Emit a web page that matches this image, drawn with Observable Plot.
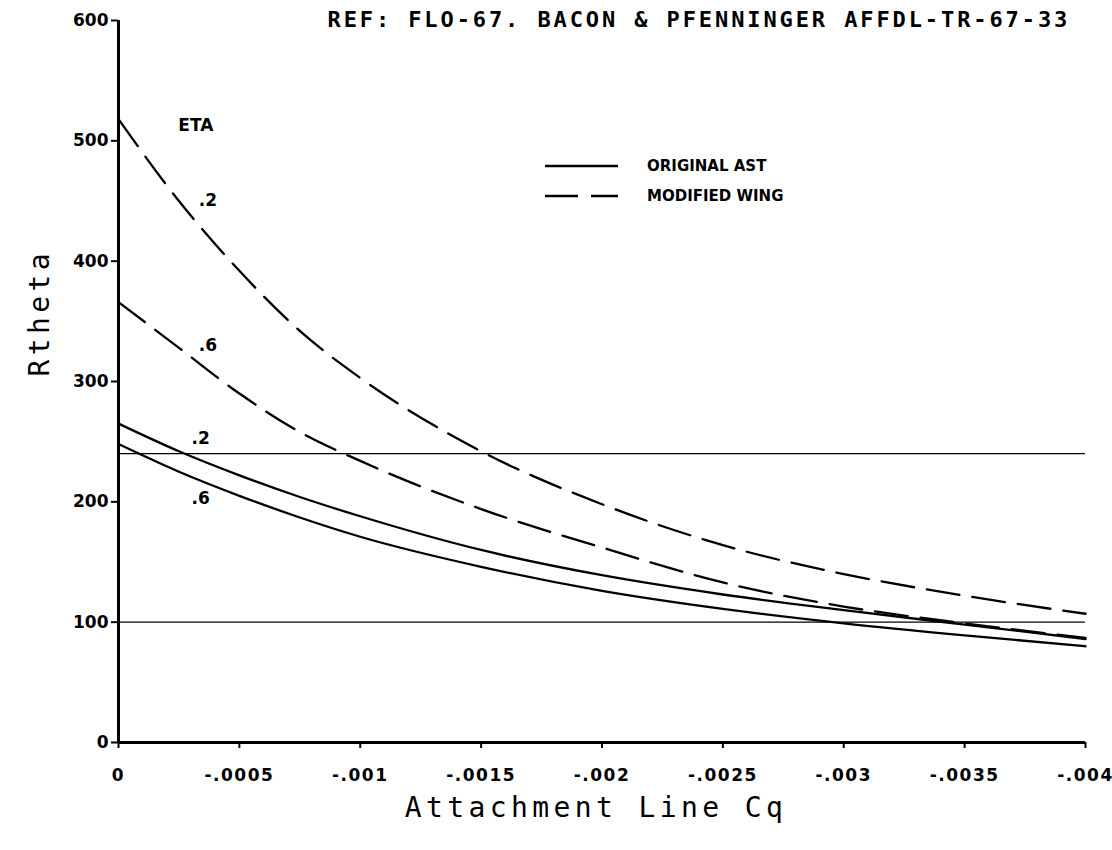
<!DOCTYPE html>
<html>
<head>
<meta charset="utf-8">
<script src="https://cdn.jsdelivr.net/npm/d3@7"></script>
<script src="https://cdn.jsdelivr.net/npm/@observablehq/plot@0.6"></script>
<style>
  body { margin: 0; background: #fff; }
  #chart svg { display: block; }
</style>
</head>
<body>
<div id="chart"></div>
<script>
// Attachment-line suction coefficient (negative = suction)
const cq = [0, -0.00025, -0.0005, -0.00075, -0.001, -0.0015, -0.002, -0.0025, -0.003, -0.0035, -0.004];

// Attachment-line momentum-thickness Reynolds number, by wing and span station
const originalEta2 = [265, 242, 222, 204, 188, 160, 139, 123, 110, 98, 86];
const originalEta6 = [248, 225, 205, 187, 171, 146, 126, 111, 99, 89, 80];
const modifiedEta2 = [518, 450, 392, 342, 303, 242, 198, 164, 140, 122, 107];
const modifiedEta6 = [366, 328, 290, 258, 234, 194, 162, 133, 113, 99, 87];

// Reference criteria (Rtheta levels)
const criteria = [100, 240];

// Axis ticks
const xTicks = [0, -0.0005, -0.001, -0.0015, -0.002, -0.0025, -0.003, -0.0035, -0.004];
const xTickLabels = ["0", "-.0005", "-.001", "-.0015", "-.002", "-.0025", "-.003", "-.0035", "-.004"];
const yTicks = [0, 100, 200, 300, 400, 500, 600];
const yTickLabels = ["0", "100", "200", "300", "400", "500", "600"];

// Texts
const titleText = "REF: FLO-67. BACON & PFENNINGER AFFDL-TR-67-33";
const xTitle = "Attachment Line Cq";
const yTitle = "Rtheta";
const legendLabels = ["ORIGINAL AST", "MODIFIED WING"];

// Curve annotations (data coordinates)
const noteText = ["ETA", ".2", ".6", ".2", ".6"];
const noteX = [-0.00032, -0.00037, -0.00037, -0.00034, -0.00034];
const noteY = [513, 450, 330, 253, 203];

const rows = [];
const addSeries = (kind, eta, values) =>
  values.forEach((r, i) => rows.push({kind, eta, cq: cq[i], r}));
addSeries("original", ".2", originalEta2);
addSeries("original", ".6", originalEta6);
addSeries("modified", ".2", modifiedEta2);
addSeries("modified", ".6", modifiedEta6);

const notes = noteText.map((t, i) => ({t, x: noteX[i], y: noteY[i]}));

const tickFont = {fontFamily: "DejaVu Sans", fontSize: 17, fontWeight: "bold"};
const dash = "33,13";

const chart = Plot.plot({
  width: 1112,
  height: 850,
  marginTop: 20,
  marginBottom: 108,
  marginLeft: 118,
  marginRight: 27,
  x: {domain: [0, -0.004]},
  y: {domain: [0, 600]},
  style: {background: "#fff", color: "#000", overflow: "visible"},
  marks: [
    Plot.ruleY(criteria, {stroke: "#000", strokeWidth: 1.3}),
    Plot.line(rows.filter(d => d.kind === "original"), {
      x: "cq", y: "r", z: "eta", curve: "monotone-x",
      stroke: "#000", strokeWidth: 2.3
    }),
    Plot.line(rows.filter(d => d.kind === "modified"), {
      x: "cq", y: "r", z: "eta", curve: "monotone-x",
      stroke: "#000", strokeWidth: 2.3, strokeDasharray: dash
    }),
    Plot.axisX({
      ticks: xTicks,
      tickFormat: d => xTickLabels[xTicks.indexOf(d)],
      tickSize: 6, tickPadding: 20, strokeWidth: 2, label: null,
      ...tickFont
    }),
    Plot.axisY({
      ticks: yTicks,
      tickFormat: d => yTickLabels[yTicks.indexOf(d)],
      tickSize: 7, tickPadding: 3, strokeWidth: 2, label: null,
      ...tickFont
    }),
    Plot.ruleY([0], {stroke: "#000", strokeWidth: 3}),
    Plot.ruleX([0], {y1: 0, y2: 600, stroke: "#000", strokeWidth: 3}),
    Plot.text(notes, {
      x: "x", y: "y", text: "t", textAnchor: "middle",
      ...tickFont, fill: "#000"
    }),
    Plot.text([titleText], {
      frameAnchor: "top-left", dx: 209, dy: -9, textAnchor: "start",
      fontFamily: "DejaVu Sans Mono", fontSize: 22, fontWeight: "bold",
      fill: "#000"
    }),
    Plot.text([xTitle], {
      frameAnchor: "bottom", dx: -6, dy: 74,
      fontFamily: "DejaVu Sans Mono", fontSize: 28, fill: "#000"
    }),
    Plot.text([yTitle], {
      frameAnchor: "left", dx: -78, dy: -5, rotate: -90,
      fontFamily: "DejaVu Sans Mono", fontSize: 28, fill: "#000"
    })
  ]
});

const svg = d3.select(chart);

// Letter spacing for the plotter-style lettering
svg.selectAll("text").filter(function () {
  return this.textContent === titleText;
}).style("letter-spacing", "2.9px");
svg.selectAll("text").filter(function () {
  return this.textContent === xTitle || this.textContent === yTitle;
}).style("letter-spacing", "4.4px");
svg.selectAll("g[aria-label='x-axis tick label'] text").style("letter-spacing", "1.5px");

// Line-style key
const key = svg.append("g").attr("class", "key").attr("text-anchor", "start");
legendLabels.forEach((label, i) => {
  const y = 166 + i * 30;
  key.append("line")
    .attr("x1", 545).attr("x2", 618).attr("y1", y).attr("y2", y)
    .attr("stroke", "#000").attr("stroke-width", 2.3)
    .attr("stroke-dasharray", i === 0 ? null : dash);
  key.append("text")
    .attr("x", 647).attr("y", y).attr("dy", "0.36em")
    .attr("font-family", "DejaVu Sans").attr("font-size", 15)
    .attr("font-weight", "bold").attr("fill", "#000")
    .text(label);
});

document.getElementById("chart").append(chart);
</script>
</body>
</html>
